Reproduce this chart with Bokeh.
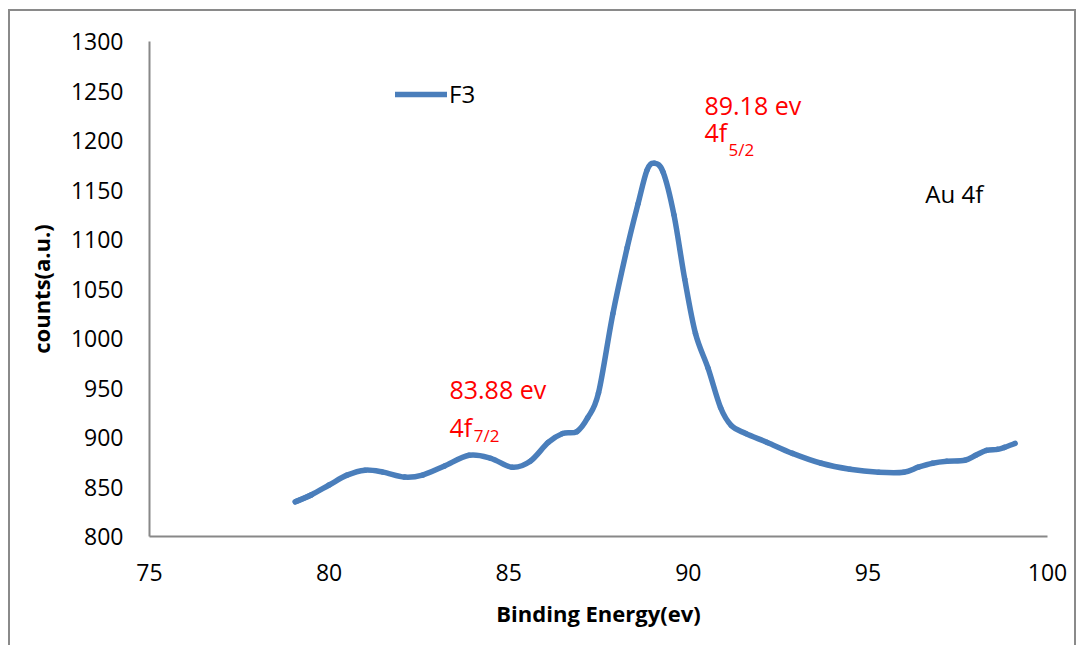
import numpy as np
from bokeh.plotting import figure
from bokeh.models import Range1d, FixedTicker, Legend, Label, ColumnDataSource
from bokeh.embed import file_html
from bokeh.resources import INLINE

# ---- data ----
energy = [79.06, 79.5, 80.0, 80.5, 81.0, 81.5, 82.1, 82.6, 83.2, 83.9, 84.5, 85.1,
          85.6, 86.1, 86.5, 86.9, 87.2, 87.5, 87.9, 88.3, 88.6, 88.85, 89.05, 89.3,
          89.6, 89.9, 90.2, 90.55, 90.9, 91.2, 91.6, 92.2, 92.9, 93.7, 94.5, 95.3,
          96.0, 96.4, 96.8, 97.2, 97.7, 98.0, 98.3, 98.6, 98.8, 99.1]
counts = [835, 842, 852, 862, 867, 865, 860, 862, 871, 882, 879, 870,
          876, 895, 904, 906, 920, 945, 1025, 1092, 1136, 1170, 1177, 1168,
          1125, 1060, 1005, 970, 930, 912, 904, 895, 884, 874, 868, 865,
          865, 870, 874, 876, 877, 882, 887, 888, 890, 894]
series_name = "F3"
x_ticks = [75, 80, 85, 90, 95, 100]
y_ticks = [800, 850, 900, 950, 1000, 1050, 1100, 1150, 1200, 1250, 1300]

FONT = "Open Sans"
LINE_COLOR = "#4A7EBB"
LW = 5.5

p = figure(width=1068, height=636, output_backend="svg", toolbar_location=None,
           x_range=Range1d(75, 100), y_range=Range1d(800, 1300),
           min_border_left=139, min_border_right=31, min_border_top=30,
           min_border_bottom=111)
p.styles = {"border-left": "2px solid #8a8a8a", "border-top": "2px solid #8a8a8a",
            "border-right": "2px solid #8a8a8a", "margin-top": "9px",
            "margin-left": "8px"}
p.outline_line_color = None
p.grid.visible = False
p.background_fill_color = "white"
p.border_fill_color = "white"

for ax in (p.xaxis[0], p.yaxis[0]):
    ax.axis_line_color = "#888888"
    ax.axis_line_width = 2
    ax.major_tick_line_color = None
    ax.minor_tick_line_color = None
    ax.major_label_text_font = FONT
    ax.major_label_text_font_size = "23px"
    ax.major_label_text_color = "black"
    ax.axis_label_text_font = FONT
    ax.axis_label_text_font_style = "bold"
    ax.axis_label_text_font_size = "22px"
    ax.axis_label_text_color = "black"

p.xaxis.ticker = FixedTicker(ticks=x_ticks)
p.yaxis.ticker = FixedTicker(ticks=y_ticks)
p.xaxis.major_label_standoff = 21
p.yaxis.major_label_standoff = 20
p.xaxis.axis_label = "Binding Energy(ev)"
p.yaxis.axis_label = "counts(a.u.)"
p.xaxis.axis_label_standoff = 14
p.yaxis.axis_label_standoff = 12

# legend swatch renderer: first segment of the series (hidden under the curve)
r = p.line(x=energy[:2], y=counts[:2], line_color=LINE_COLOR, line_width=LW,
           line_cap="round")

# smoothed line (Excel-style cubic Bezier through the data points)
xs = np.array(energy, dtype=float)
ys = np.array(counts, dtype=float)
xp = np.concatenate([[xs[0]], xs, [xs[-1]]])
yp = np.concatenate([[ys[0]], ys, [ys[-1]]])
n = len(xs)
i = np.arange(n - 1)
seg = dict(
    x0=xs[:-1], y0=ys[:-1], x1=xs[1:], y1=ys[1:],
    cx0=xs[:-1] + (xp[i + 2] - xp[i]) / 6.0,
    cy0=ys[:-1] + (yp[i + 2] - yp[i]) / 6.0,
    cx1=xs[1:] - (xp[i + 3] - xp[i + 1]) / 6.0,
    cy1=ys[1:] - (yp[i + 3] - yp[i + 1]) / 6.0,
)
p.bezier(x0="x0", y0="y0", x1="x1", y1="y1", cx0="cx0", cy0="cy0",
         cx1="cx1", cy1="cy1", source=ColumnDataSource(seg),
         line_color=LINE_COLOR, line_width=LW, line_cap="round")

legend = Legend(items=[(series_name, [r])], location=(246, 426),
                border_line_color=None, background_fill_alpha=0,
                label_text_font=FONT, label_text_font_size="24px",
                label_text_color="black",
                glyph_width=52, glyph_height=26, label_height=26,
                label_standoff=2, padding=0, margin=0, spacing=0)
p.add_layout(legend)

def lab(x, y, t, size, color="red"):
    p.add_layout(Label(x=x, y=y, text=t, text_font=FONT, text_font_size=size,
                       text_color=color, text_baseline="middle", text_align="left"))

lab(90.45, 1236, "89.18 ev", "25px")
lab(90.45, 1209, "4f", "25px")
lab(91.12, 1191, "5/2", "17px")
lab(83.35, 948.5, "83.88 ev", "25px")
lab(83.35, 911, "4f", "25px")
lab(84.03, 902, "7/2", "17px")
lab(96.6, 1146, "Au 4f", "24px", "black")

open("out.html", "w").write(file_html(p, INLINE))
